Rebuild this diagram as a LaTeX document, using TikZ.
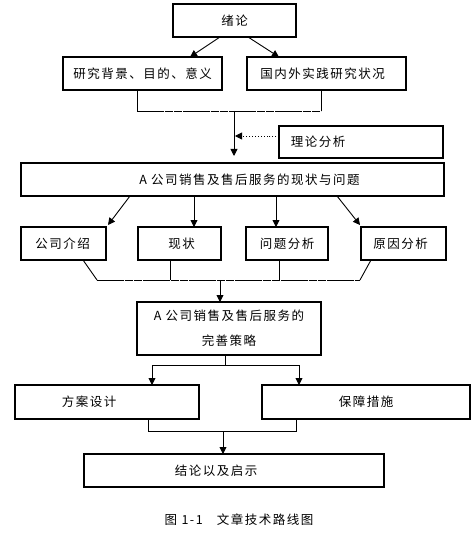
\documentclass[tikz,border=0pt]{standalone}
\usepackage{fontspec}
\setmainfont{Noto Sans CJK SC}[LetterSpace=12]
\usetikzlibrary{arrows.meta,calc}
\begin{document}
\begin{tikzpicture}[x=1pt,y=-1pt,
  bx/.style={draw,line width=1.3pt,inner sep=0pt,outer sep=0pt},
  lbl/.style={font=\fontsize{12.5}{15}\selectfont,inner sep=0pt},
  con/.style={line width=0.9pt},
  dashh/.style={line width=0.9pt,dash pattern=on 8.5pt off 0.7pt},
  arr/.style={con,-{Triangle[length=7pt,width=7pt]}},
  darr/.style={line width=0.9pt,dotted,-{Triangle[length=7pt,width=7pt]}}]
\useasboundingbox (0,0) rectangle (473,537);
% boxes
\node[bx,minimum width=123pt,minimum height=33pt,label={[lbl]center:绪论}] (xl) at (234.5,20.5) {};
\node[bx,minimum width=159pt,minimum height=33pt,label={[lbl]center:研究背景、目的、意义}] (bj) at (142.5,73.5) {};
\node[bx,minimum width=159pt,minimum height=33pt,label={[lbl,xshift=-4pt]center:国内外实践研究状况}] (gn) at (326.5,73.5) {};
\node[bx,minimum width=164pt,minimum height=32pt,label={[lbl,xshift=-43pt]center:理论分析}] (ll) at (361,142) {};
\node[bx,minimum width=423pt,minimum height=33pt,label={[lbl,xshift=17pt]center:A 公司销售及售后服务的现状与问题}] (main) at (232.5,179.5) {};
\node[bx,minimum width=85pt,minimum height=33pt,label={[lbl,xshift=-1pt]center:公司介绍}] (gs) at (63.5,243.5) {};
\node[bx,minimum width=83pt,minimum height=33pt,label={[lbl,xshift=2pt]center:现状}] (xz) at (179.5,243.5) {};
\node[bx,minimum width=82pt,minimum height=33pt,label={[lbl]center:问题分析}] (wt) at (287,243.5) {};
\node[bx,minimum width=85pt,minimum height=33pt,label={[lbl,xshift=-3pt]center:原因分析}] (yy) at (403.5,243.5) {};
\node[bx,minimum width=184pt,minimum height=53pt,label={[lbl,align=center,font=\fontsize{12.5}{25}\selectfont]center:A 公司销售及售后服务的\\完善策略}] (cl) at (229,328.5) {};
\node[bx,minimum width=184pt,minimum height=34pt,label={[lbl,xshift=-18pt]center:方案设计}] (fa) at (107,402) {};
\node[bx,minimum width=208pt,minimum height=34pt,label={[lbl]center:保障措施}] (bz) at (366,402) {};
\node[bx,minimum width=300pt,minimum height=33pt,label={[lbl,xshift=-18pt]center:结论以及启示}] (jl) at (234,470.5) {};
\node[lbl] (cap) at (239,520) {图 1-1\hspace{14pt}文章技术路线图};
% connectors top
\draw[arr] ([xshift=-14.5pt]xl.south) -- ([xshift=47.5pt]bj.north);
\draw[arr] ([xshift=13.5pt]xl.south) -- ([xshift=-47.5pt]gn.north);
\coordinate (j1) at (234,111);
\coordinate (bjb) at ([xshift=-5.5pt]bj.south);
\coordinate (gnb) at ([xshift=-5.5pt]gn.south);
\draw[con] (bjb) -- (bjb |- j1);
\draw[con] (gnb) -- (gnb |- j1);
\draw[dashh] (bjb |- j1) -- (gnb |- j1);
\draw[arr,shorten >=7pt] (j1) -- (j1 |- main.north);
\draw[darr,shorten >=1pt] ([yshift=6pt]ll.west) -- ([yshift=6pt]ll.west -| j1);
% main to row
\draw[arr] ([xshift=-102.5pt]main.south) -- ([xshift=44.5pt,yshift=2pt]gs.north);
\draw[arr] ([xshift=14.5pt]xz.north |- main.south) -- ([xshift=14.5pt]xz.north);
\draw[arr] ([xshift=-11pt]wt.north |- main.south) -- ([xshift=-11pt]wt.north);
\draw[arr] ([xshift=104.5pt]main.south) -- ([xshift=-43.5pt,yshift=2pt]yy.north);
% row to cl
\coordinate (j2) at (220,280);
\coordinate (h1) at (97,280);
\coordinate (h2) at (360,280);
\draw[con] ([xshift=19.5pt]gs.south) -- (h1);
\draw[con] ([xshift=-9.5pt]xz.south) -- ([xshift=-9.5pt]xz.south |- j2);
\draw[con] ([xshift=-8pt]wt.south) -- ([xshift=-8pt]wt.south |- j2);
\draw[con] ([xshift=-32.5pt]yy.south) -- (h2);
\draw[dashh] (h1) -- (h2);
\draw[arr] (j2) -- (j2 |- cl.north);
% cl to fa / bz
\coordinate (j3) at (225,365);
\draw[con] ([xshift=-4pt]cl.south) -- (j3);
\draw[arr] (j3) -| ([xshift=45pt]fa.north);
\draw[arr] (j3) -| ([xshift=-67pt]bz.north);
% fa / bz to jl
\coordinate (j4) at (223,431);
\draw[con] ([xshift=41pt]fa.south) |- (j4);
\draw[con] ([xshift=-70pt]bz.south) |- (j4);
\draw[arr] (j4) -- (j4 |- jl.north);
\end{tikzpicture}
\end{document}
